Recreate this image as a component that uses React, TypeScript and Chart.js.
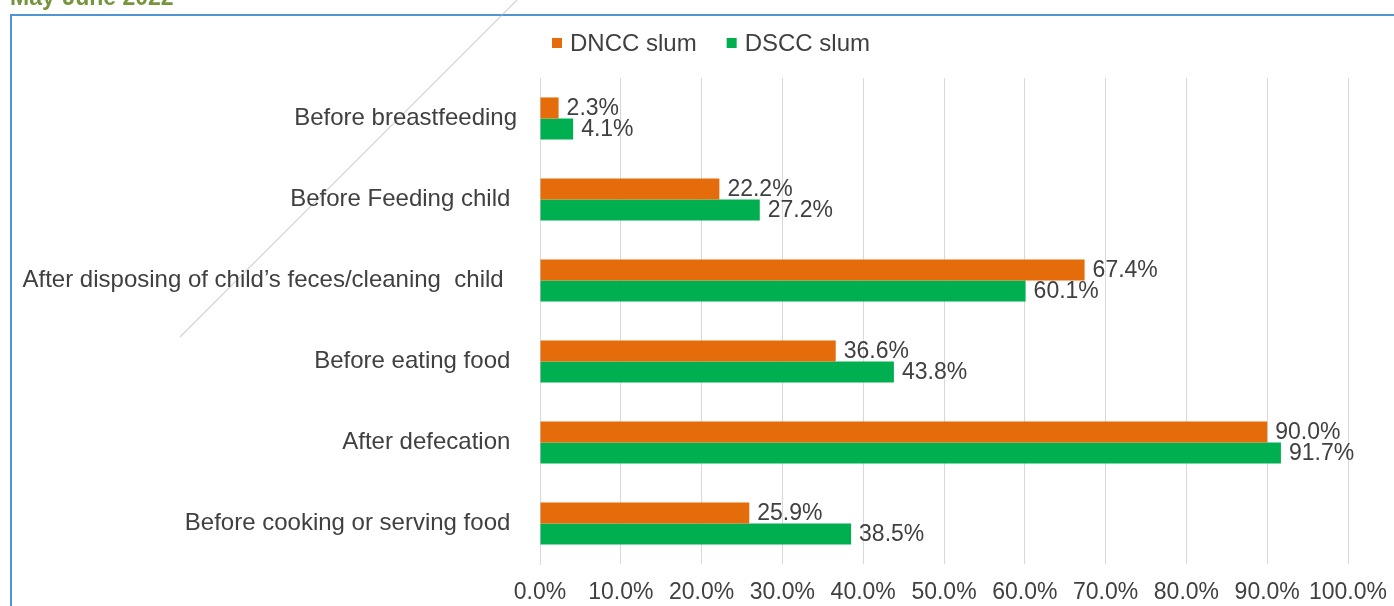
import React, { useEffect, useRef } from "react";
import { Chart, registerables } from "chart.js";

Chart.register(...registerables);

const titleText = "May-June 2022";
const categories = [
  "Before breastfeeding",
  "Before Feeding child ",
  "After disposing of child’s feces/cleaning  child  ",
  "Before eating food ",
  "After defecation ",
  "Before cooking or serving food ",
];
const seriesNames = ["DNCC slum", "DSCC slum"];
const dnccValues = [2.3, 22.2, 67.4, 36.6, 90.0, 25.9];
const dsccValues = [4.1, 27.2, 60.1, 43.8, 91.7, 38.5];
const xTickLabels = ["0.0%", "10.0%", "20.0%", "30.0%", "40.0%", "50.0%", "60.0%", "70.0%", "80.0%", "90.0%", "100.0%"];

const FONT_FAMILY = "'Liberation Sans', Arial, sans-serif";
const FONT_SIZE = 23;
const LABEL_FONT_SIZE = 24;
const TEXT_COLOR = "#404040";
const COLORS = ["#E46C0A", "#00B050"];

const decorPlugin = {
  id: "decor",
  beforeDraw(chart: any) {
    const ctx = chart.ctx;
    ctx.save();
    // frame border
    ctx.strokeStyle = "#4F94D4";
    ctx.lineWidth = 2;
    ctx.strokeRect(11, 15, 1500, 800);
    // faint diagonal line
    ctx.strokeStyle = "rgba(185,185,185,0.6)";
    ctx.lineWidth = 1.2;
    ctx.beginPath();
    ctx.moveTo(180, 337);
    ctx.lineTo(520, -3);
    ctx.stroke();
    // title (cut off at top)
    ctx.fillStyle = "#77933C";
    ctx.font = `bold ${FONT_SIZE}px ${FONT_FAMILY}`;
    ctx.textAlign = "left";
    ctx.textBaseline = "alphabetic";
    ctx.fillText(titleText, 10, 5);
    ctx.restore();
  },
};

const labelsPlugin = {
  id: "valueLabels",
  afterDatasetsDraw(chart: any) {
    const ctx = chart.ctx;
    ctx.save();
    ctx.font = `${FONT_SIZE}px ${FONT_FAMILY}`;
    ctx.fillStyle = TEXT_COLOR;
    ctx.textAlign = "left";
    ctx.textBaseline = "middle";
    chart.data.datasets.forEach((ds: any, di: number) => {
      const meta = chart.getDatasetMeta(di);
      meta.data.forEach((el: any, i: number) => {
        const v = ds.data[i] as number;
        ctx.fillText(v.toFixed(1) + "%", el.x + 8, el.y + 1);
      });
    });
    ctx.restore();
  },
};

const legendPlugin = {
  id: "customLegend",
  afterDraw(chart: any) {
    const ctx = chart.ctx;
    ctx.save();
    ctx.font = `${LABEL_FONT_SIZE}px ${FONT_FAMILY}`;
    ctx.textBaseline = "middle";
    ctx.textAlign = "left";
    const box = 10;
    const gap = 8;
    const itemGap = 30;
    const widths = seriesNames.map((n) => ctx.measureText(n).width);
    const total = widths.reduce((a, w) => a + box + gap + w, 0) + itemGap * (seriesNames.length - 1);
    let x = 711 - total / 2;
    const cy = 43;
    seriesNames.forEach((n, i) => {
      ctx.fillStyle = COLORS[i];
      ctx.fillRect(x, cy - box / 2, box, box);
      x += box + gap;
      ctx.fillStyle = TEXT_COLOR;
      ctx.fillText(n, x, cy + 1);
      x += widths[i] + itemGap;
    });
    ctx.restore();
  },
};

export default function App() {
  const ref = useRef<HTMLCanvasElement>(null);

  useEffect(() => {
    if (!ref.current) return;
    const font = { family: FONT_FAMILY, size: FONT_SIZE };
    const labelFont = { family: FONT_FAMILY, size: LABEL_FONT_SIZE };
    const chart = new Chart(ref.current, {
      type: "bar",
      data: {
        labels: categories,
        datasets: [
          {
            label: seriesNames[0],
            data: dnccValues,
            backgroundColor: COLORS[0],
            barPercentage: 1,
            categoryPercentage: 0.52,
          },
          {
            label: seriesNames[1],
            data: dsccValues,
            backgroundColor: COLORS[1],
            barPercentage: 1,
            categoryPercentage: 0.52,
          },
        ],
      },
      options: {
        indexAxis: "y",
        responsive: false,
        animation: false,
        layout: { padding: { left: 0, right: 46, top: 78, bottom: 0 } },
        plugins: {
          legend: { display: false },
          tooltip: { enabled: false },
        },
        scales: {
          x: {
            min: 0,
            max: 100,
            ticks: {
              stepSize: 10,
              autoSkip: false,
              maxRotation: 0,
              font,
              color: TEXT_COLOR,
              padding: 15,
              callback: (_v: any, i: number) => xTickLabels[i],
            },
            grid: { color: "#D9D9D9", drawTicks: false, lineWidth: 1 },
            border: { display: false },
            afterFit: (s: any) => {
              s.height = 42;
              s.paddingRight = 0;
              s.paddingLeft = 0;
            },
          },
          y: {
            ticks: { font: labelFont, color: TEXT_COLOR, padding: 23, autoSkip: false },
            grid: { display: false, drawTicks: false },
            border: { display: true, color: "#D9D9D9" },
            afterFit: (s: any) => {
              s.width = 540;
              s.paddingTop = 0;
              s.paddingBottom = 0;
            },
          },
        },
      } as any,
      plugins: [decorPlugin, labelsPlugin, legendPlugin],
    });
    return () => chart.destroy();
  }, []);

  return (
    <div style={{ position: "absolute", left: 0, top: 0, width: 1394, height: 606, overflow: "hidden", background: "#fff" }}>
      <canvas ref={ref} width={1394} height={606} style={{ width: 1394, height: 606, display: "block" }} />
    </div>
  );
}
